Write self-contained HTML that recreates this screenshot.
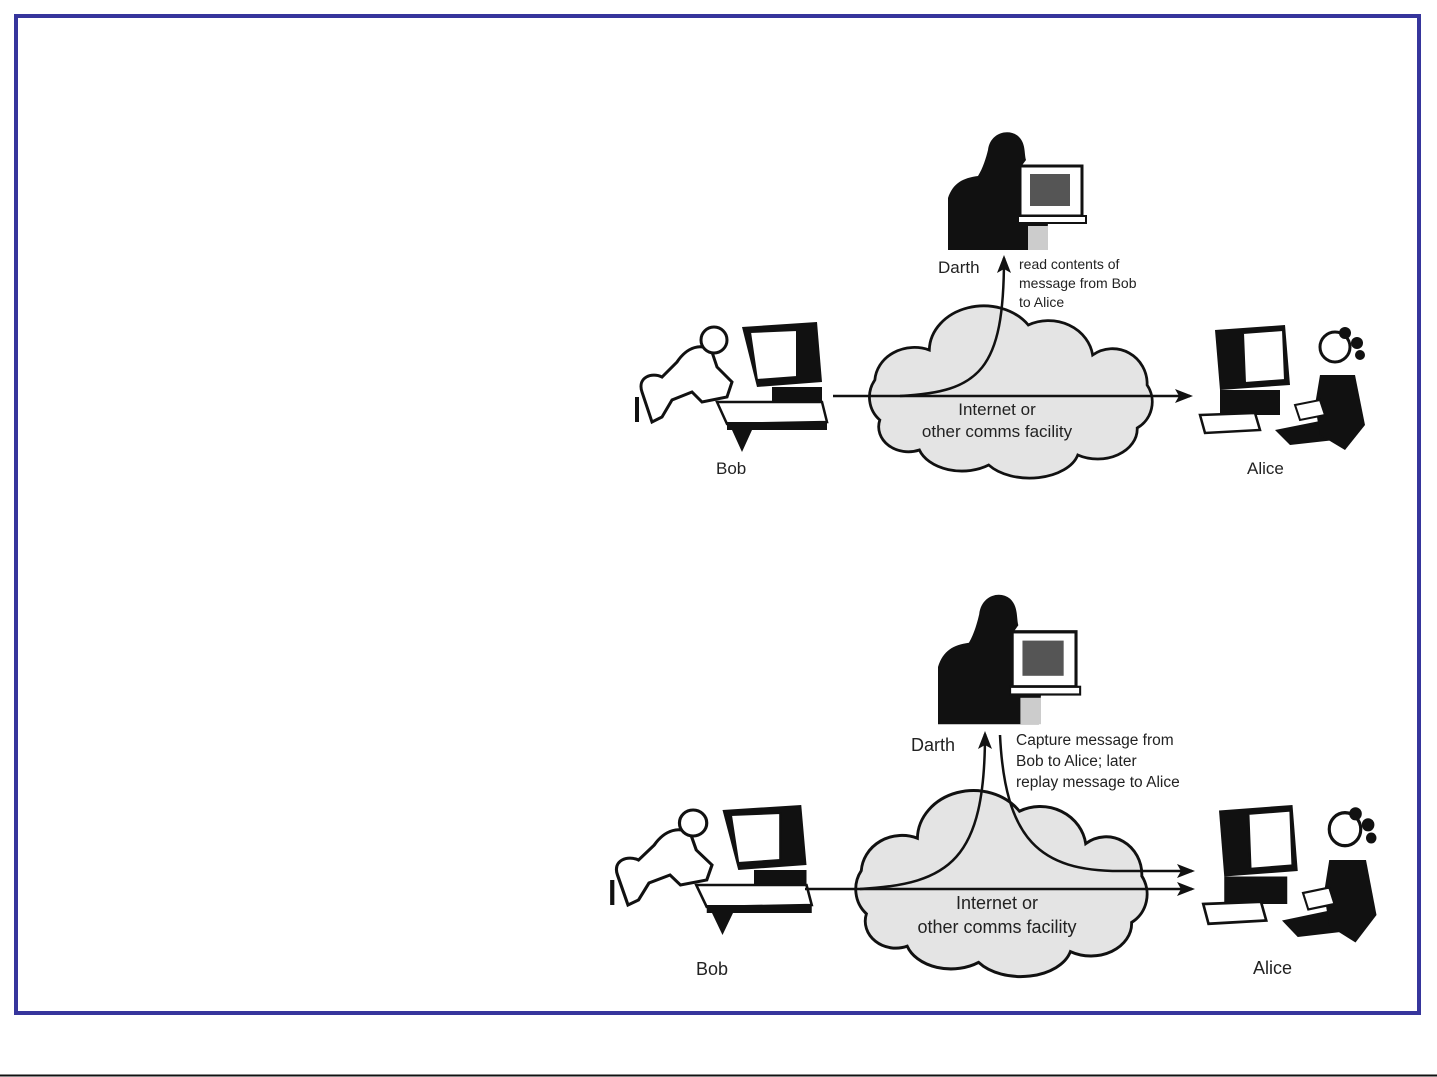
<!DOCTYPE html>
<html><head><meta charset="utf-8"><style>
html,body{margin:0;padding:0;background:#fff;}
body{width:1437px;height:1077px;position:relative;overflow:hidden;font-family:"Liberation Sans",sans-serif;}
</style></head><body>
<svg width="1437" height="1077" viewBox="0 0 1437 1077" xmlns="http://www.w3.org/2000/svg" style="position:absolute;left:0;top:0">
<defs>
<path id="cloud" d="M20,110 A30,30 0 0 1 15,70 A40,35 0 0 1 70,40 A55,45 0 0 1 170,15 A45,40 0 0 1 235,45 A35,35 0 0 1 290,75 A30,30 0 0 1 280,118 A40,30 0 0 1 220,145 A50,30 0 0 1 130,155 A45,30 0 0 1 60,140 A30,25 0 0 1 20,110 Z"/>
<marker id="ah" markerWidth="18" markerHeight="14" refX="15" refY="7" orient="auto" markerUnits="userSpaceOnUse"><path d="M0,0 L18,7 L0,14 L4,7 Z" fill="#111"/></marker>
<g id="bob">
 <path d="M10,70 C5,55 20,50 30,55 L45,40 C55,25 70,20 80,30 L85,45 L100,60 L95,75 L70,80 L60,70 L40,78 L30,95 L20,100 Z" fill="#fff" stroke="#111" stroke-width="3"/>
 <circle cx="82" cy="18" r="13" fill="#fff" stroke="#111" stroke-width="3"/>
 <path d="M110,5 L185,0 L190,60 L125,65 Z" fill="#111"/>
 <path d="M118,10 L165,8 L165,55 L125,58 Z" fill="#fff" stroke="#111" stroke-width="2"/>
 <rect x="140" y="65" width="50" height="18" fill="#111"/>
 <path d="M85,80 L190,80 L195,100 L95,102 Z" fill="#fff" stroke="#111" stroke-width="2.5"/>
 <rect x="95" y="100" width="100" height="8" fill="#111"/>
 <path d="M100,108 L110,130 L120,108 Z" fill="#111"/>
 <path d="M5,75 L5,100" stroke="#111" stroke-width="4"/>
</g>
<g id="alice">
 <path d="M20,5 L90,0 L95,60 L25,65 Z" fill="#111"/>
 <path d="M48,8 L88,5 L90,55 L50,58 Z" fill="#fff" stroke="#111" stroke-width="2"/>
 <rect x="25" y="65" width="60" height="25" fill="#111"/>
 <path d="M5,90 L60,88 L65,105 L10,108 Z" fill="#fff" stroke="#111" stroke-width="2.5"/>
 <path d="M80,105 L130,95 L140,115 L95,120 Z" fill="#111"/>
 <circle cx="140" cy="22" r="15" fill="#fff" stroke="#111" stroke-width="3"/>
 <circle cx="150" cy="8" r="6" fill="#111"/><circle cx="162" cy="18" r="6" fill="#111"/><circle cx="165" cy="30" r="5" fill="#111"/>
 <path d="M125,50 L160,50 L170,100 L150,125 L125,110 L120,80 Z" fill="#111"/>
 <path d="M100,80 L125,75 L130,90 L105,95 Z" fill="#fff" stroke="#111" stroke-width="2"/>
</g>
<g id="darth">
 <path d="M0,122 L0,70 C5,55 15,50 30,48 C35,40 38,30 40,22 C42,5 60,0 70,8 C78,15 76,25 78,32 L72,40 L72,55 C80,65 80,80 80,90 L100,95 L98,122 Z" fill="#111"/>
 <rect x="72" y="38" width="62" height="50" fill="#fff" stroke="#111" stroke-width="3"/>
 <rect x="82" y="46" width="40" height="32" fill="#555"/>
 <rect x="70" y="88" width="68" height="7" fill="#fff" stroke="#111" stroke-width="2"/>
 <rect x="80" y="98" width="20" height="24" fill="#ccc"/>
</g>
</defs>

<rect x="16" y="16" width="1403" height="997" fill="none" stroke="#36359c" stroke-width="4"/>
<line x1="0" y1="1075.5" x2="1437" y2="1075.5" stroke="#111" stroke-width="2"/>

<!-- TOP DIAGRAM -->
<use href="#cloud" transform="translate(860,310) scale(0.99,1.0)" fill="#e4e4e4" stroke="#111" stroke-width="2.8"/>
<use href="#bob" transform="translate(632,322)"/>
<use href="#alice" transform="translate(1195,325)"/>
<use href="#darth" transform="translate(948,128)"/>
<line x1="833" y1="396" x2="1190" y2="396" stroke="#111" stroke-width="2.5" marker-end="url(#ah)"/>
<path d="M900,396 C980,392 1004,370 1004,258" fill="none" stroke="#111" stroke-width="2.5" marker-end="url(#ah)"/>
<g font-size="17" fill="#222">
<text x="938" y="273">Darth</text>
<text x="716" y="474">Bob</text>
<text x="1247" y="474">Alice</text>
<text x="997" y="415" text-anchor="middle">Internet or</text>
<text x="997" y="437" text-anchor="middle">other comms facility</text>
</g>
<g font-size="14" fill="#222">
<text x="1019" y="269">read contents of</text>
<text x="1019" y="288">message from Bob</text>
<text x="1019" y="307">to Alice</text>
</g>

<!-- BOTTOM DIAGRAM -->
<use href="#cloud" transform="translate(846,795) scale(1.02,1.08)" fill="#e4e4e4" stroke="#111" stroke-width="2.8"/>
<use href="#bob" transform="translate(607,805) scale(1.05,1.0)"/>
<use href="#alice" transform="translate(1198,805) scale(1.05,1.1)"/>
<use href="#darth" transform="translate(938,590) scale(1.03,1.1)"/>
<line x1="805" y1="889" x2="1192" y2="889" stroke="#111" stroke-width="2.5" marker-end="url(#ah)"/>
<path d="M860,889 C950,884 985,860 985,734" fill="none" stroke="#111" stroke-width="2.5" marker-end="url(#ah)"/>
<path d="M1000,735 C1005,840 1040,871 1120,871 L1192,871" fill="none" stroke="#111" stroke-width="2.5" marker-end="url(#ah)"/>
<g font-size="18" fill="#222">
<text x="911" y="751">Darth</text>
<text x="696" y="975">Bob</text>
<text x="1253" y="974">Alice</text>
<text x="997" y="909" text-anchor="middle">Internet or</text>
<text x="997" y="933" text-anchor="middle">other comms facility</text>
</g>
<g font-size="15.5" fill="#222">
<text x="1016" y="745">Capture message from</text>
<text x="1016" y="766">Bob to Alice; later</text>
<text x="1016" y="787">replay message to Alice</text>
</g>
</svg>
</body></html>
